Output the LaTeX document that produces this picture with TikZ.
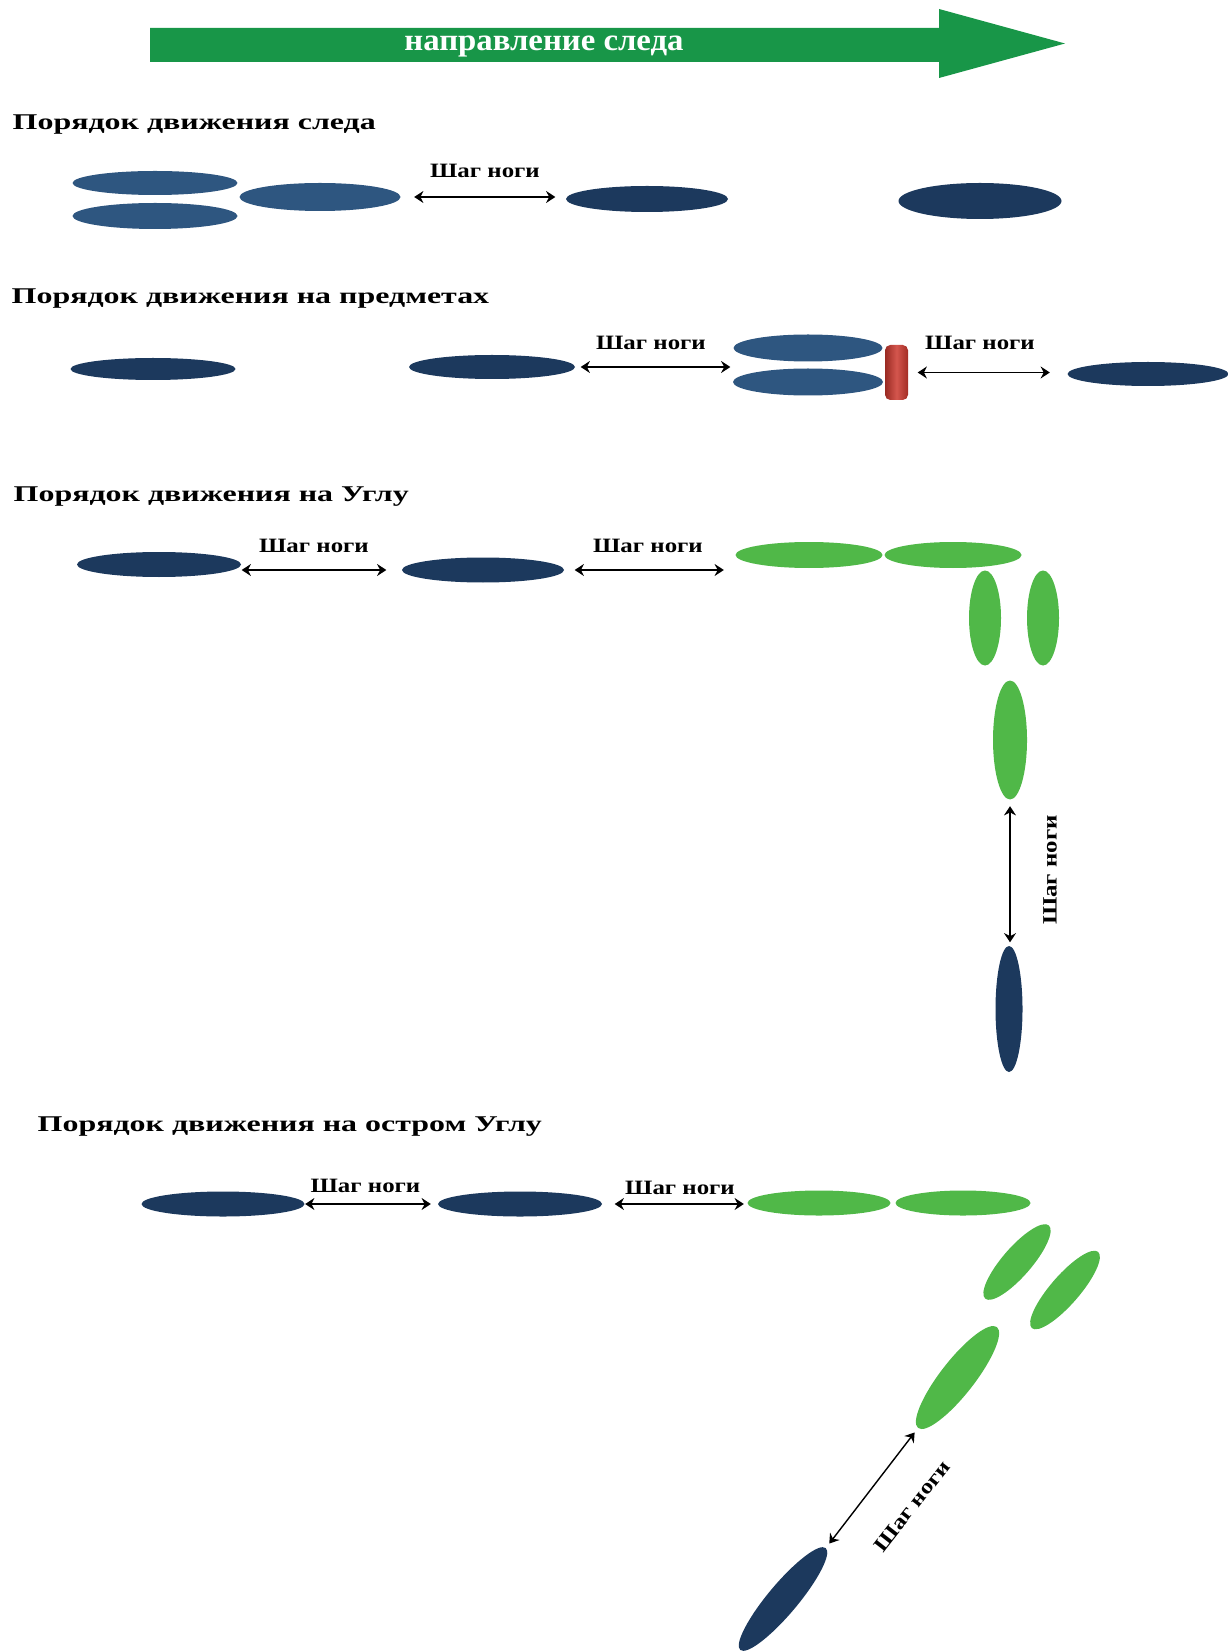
\documentclass[tikz,border=0pt]{standalone}
\usepackage{fontspec}
\setmainfont{Liberation Serif}
\newfontfamily\headfont[FakeStretch=1.42]{Liberation Serif}
\newfontfamily\labelfont[FakeStretch=1.22]{Liberation Serif}
\newfontfamily\dirfont[FakeStretch=1.06]{Liberation Serif}
\usetikzlibrary{positioning,arrows.meta,calc,shapes.geometric}
\definecolor{trailgreen}{RGB}{24,150,72}
\definecolor{footlight}{RGB}{46,86,128}
\definecolor{footdark}{RGB}{28,57,93}
\definecolor{footgreen}{RGB}{80,184,72}
\definecolor{barred}{RGB}{204,56,46}
\tikzset{
  foot/.style={ellipse,inner sep=0pt,fill=#1},
  fsize/.style 2 args={minimum width=#1cm,minimum height=#2cm},
  heading/.style={anchor=base west,inner sep=0pt,font=\headfont\bfseries\fontsize{6.4}{7}\selectfont},
  steplabel/.style={inner sep=0pt,font=\labelfont\bfseries\fontsize{5.8}{6}\selectfont},
  stride/.style={<->,line width=0.5pt},
}

\begin{document}
\begin{tikzpicture}[>={Stealth[length=2.6pt,width=3.4pt]}]
\useasboundingbox (0,0) rectangle (12.28,-16.52);

% direction arrow
\fill[trailgreen] (1.50,-0.28) -- (9.39,-0.28) -- (9.39,-0.09) -- (10.65,-0.435)
  -- (9.39,-0.78) -- (9.39,-0.62) -- (1.50,-0.62) -- cycle;
\node[text=white,font=\dirfont\bfseries\fontsize{8.8}{10}\selectfont] (dir) at (5.44,-0.465) {направление следа};

% trail
\node[heading] (t1) at (0.12,-1.30) {Порядок движения следа};
\node[foot=footlight,fsize={1.65}{0.24}] (e1a) at (1.55,-1.83) {};
\node[foot=footlight,fsize={1.65}{0.26}] (e1b) at (1.55,-2.16) {};
\node[foot=footlight,fsize={1.61}{0.28}] (e1c) at (3.20,-1.97) {};
\node[foot=footdark,fsize={1.62}{0.26}] (e1d) at (6.47,-1.99) {};
\node[foot=footdark,fsize={1.63}{0.36}] (e1e) at (9.80,-2.01) {};
\draw[stride,line width=0.8pt,shorten <=0.13cm,shorten >=0.10cm] (e1c.east) -- (e1c.east -| e1d.west);
\node[steplabel] (s1) at (4.85,-1.71) {Шаг ноги};

% objects
\node[heading] (t2) at (0.11,-3.04) {Порядок движения на предметах};
\node[foot=footdark,fsize={1.65}{0.22}] (e2a) at (1.53,-3.69) {};
\node[foot=footdark,fsize={1.66}{0.24}] (e2b) at (4.92,-3.67) {};
\node[foot=footlight,fsize={1.49}{0.27}] (e2c) at (8.08,-3.48) {};
\node[foot=footlight,fsize={1.50}{0.27}] (e2d) at (8.08,-3.82) {};
\node[inner sep=0pt,rounded corners=1.5pt,left color=barred!75!black,right color=barred!80!black,
  middle color=barred!85!white,fsize={0.23}{0.55}] (bar) at (8.965,-3.725) {};
\node[foot=footdark,fsize={1.61}{0.24}] (e2e) at (11.48,-3.74) {};
\draw[stride,shorten <=0.05cm,shorten >=0.02cm] (e2b.east) -- (e2b.east -| e2d.west);
\draw[stride,shorten <=0.09cm,shorten >=0.17cm] (bar.east) -- (bar.east -| e2e.west);
\node[steplabel] (s2) at (6.51,-3.43) {Шаг ноги};
\node[steplabel] (s3) at (9.80,-3.43) {Шаг ноги};

% corner
\node[heading] (t3) at (0.13,-5.02) {Порядок движения на Углу};
\node[foot=footdark,fsize={1.64}{0.25}] (e3a) at (1.59,-5.645) {};
\node[foot=footdark,fsize={1.62}{0.25}] (e3b) at (4.83,-5.70) {};
\node[foot=footgreen,fsize={1.47}{0.26}] (g3a) at (8.09,-5.55) {};
\node[foot=footgreen,fsize={1.37}{0.26}] (g3b) at (9.53,-5.55) {};
\node[foot=footgreen,fsize={0.32}{0.95}] (g3c) at (9.85,-6.18) {};
\node[foot=footgreen,fsize={0.32}{0.95}] (g3d) at (10.43,-6.18) {};
\node[foot=footgreen,fsize={0.34}{1.19}] (g3e) at (10.10,-7.40) {};
\node[foot=footdark,fsize={0.27}{1.26}] (e3c) at (10.09,-10.09) {};
\draw[stride,shorten >=0.15cm] (e3b.west -| e3a.east) -- (e3b.west);
\draw[stride,shorten <=0.10cm,shorten >=0.11cm] (e3b.east) -- (e3b.east -| g3a.west);
\draw[stride,line width=0.4pt,shorten <=0.06cm,shorten >=0.03cm] (g3e.south) -- (g3e.south |- e3c.north);
\node[steplabel] (s4) at (3.14,-5.46) {Шаг ноги};
\node[steplabel] (s5) at (6.48,-5.46) {Шаг ноги};
\node[steplabel,rotate=90] (s6) at (10.50,-8.70) {Шаг ноги};

% sharp corner
\node[heading] (t4) at (0.37,-11.31) {Порядок движения на остром Углу};
\node[foot=footdark,fsize={1.63}{0.25}] (e4a) at (2.23,-12.04) {};
\node[foot=footdark,fsize={1.64}{0.25}] (e4b) at (5.20,-12.04) {};
\node[foot=footgreen,fsize={1.43}{0.25}] (g4a) at (8.19,-12.03) {};
\node[foot=footgreen,fsize={1.35}{0.25}] (g4b) at (9.63,-12.03) {};
\node[foot=footgreen,fsize={0.97}{0.29},rotate=49] (g4c) at (10.17,-12.62) {};
\node[foot=footgreen,fsize={1.01}{0.29},rotate=49] (g4d) at (10.65,-12.90) {};
\node[foot=footgreen,fsize={1.28}{0.34},rotate=52] (g4e) at (9.575,-13.775) {};
\node[foot=footdark,fsize={1.33}{0.30},rotate=50] (e4c) at (7.83,-15.99) {};
\draw[stride,shorten >=0.065cm] (e4b.west -| e4a.east) -- (e4b.west);
\draw[stride,shorten <=0.12cm,shorten >=0.03cm] (e4b.east) -- (e4b.east -| g4a.west);
\draw[stride,line width=0.4pt,shorten <=0.05cm,shorten >=0.05cm] (e4c.east) -- (g4e.west);
\node[steplabel] (s7) at (3.655,-11.86) {Шаг ноги};
\node[steplabel] (s8) at (6.80,-11.88) {Шаг ноги};
\node[steplabel,rotate=52] (s9) at (9.12,-15.06) {Шаг ноги};
\end{tikzpicture}
\end{document}
